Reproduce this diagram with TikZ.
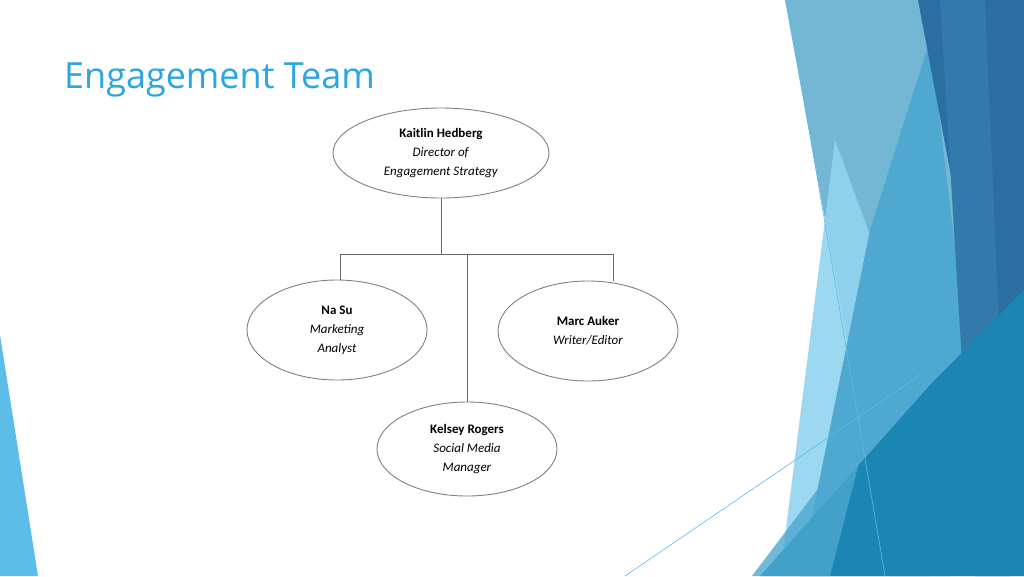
\documentclass[tikz,border=0pt]{standalone}
\usepackage{fontspec}
\setmainfont{Carlito}
\newfontfamily\titlefont{Open Sans}
\usetikzlibrary{shapes.geometric}
\definecolor{titleblue}{HTML}{2BA6DE}
\definecolor{bgpale}{HTML}{74B7D5}
\definecolor{bgmid}{HTML}{4EA8CF}
\definecolor{bgdark}{HTML}{2A6EA2}
\definecolor{bgcyan}{HTML}{93D4F0}
\definecolor{bgteal}{HTML}{1B85B4}
\definecolor{bgleft}{HTML}{5BBDE8}
\tikzset{
  person/.style={ellipse, draw=black!50, line width=0.9pt, fill=white, inner sep=0pt, align=center, font=\fontsize{13}{19}\selectfont},
  link/.style={draw=black!60, line width=0.9pt}
}
\begin{document}
\begin{tikzpicture}[x=1pt,y=-1pt]
    \useasboundingbox (0,0) rectangle (1024,576);
    \fill[white] (0,0) rectangle (1024,576);

    % background shapes
    \fill[bgpale] (785,0) -- (1024,0) -- (1024,576) -- (890,576) -- cycle;
    \fill[bgcyan, opacity=0.9] (835,140) -- (905,330) -- (930,576) -- (780,576) -- cycle;
    \fill[bgmid] (930,40) -- (965,330) -- (950,576) -- (800,576) -- (870,230) -- cycle;
    \fill[bgdark] (918,0) -- (1024,0) -- (1024,300) -- (980,330) -- cycle;
    \fill[bgdark!80!bgmid] (940,0) -- (985,0) -- (1010,576) -- (975,576) -- cycle;
    \fill[bgteal] (760,576) -- (930,385) -- (1024,290) -- (1024,576) -- cycle;
    \fill[bgmid, opacity=0.8] (752,576) -- (870,420) -- (830,576) -- cycle;
    \fill[bgleft] (0,335) -- (38,576) -- (0,576) -- cycle;
    \draw[bgleft, line width=0.6pt] (787,0) -- (885,576);
    \draw[bgleft, line width=0.6pt] (625,576) -- (920,375);

    % title
    \node[anchor=west, inner sep=0pt, text=titleblue, font=\titlefont\fontsize{36}{40}\selectfont] (title) at (64,80) {Engagement Team};

    % people
    \node[person, minimum width=216pt, minimum height=90pt] (kaitlin) at (441,153)
        {\textbf{Kaitlin Hedberg}\\\textit{Director of}\\\textit{Engagement Strategy}};
    \node[person, minimum width=180pt, minimum height=100pt] (nasu) at (337,330)
        {\textbf{Na Su}\\\textit{Marketing}\\\textit{Analyst}};
    \node[person, minimum width=180pt, minimum height=100pt] (marc) at (588,331)
        {\textbf{Marc Auker}\\\textit{Writer/Editor}};
    \node[person, minimum width=180pt, minimum height=94pt] (kelsey) at (467,449)
        {\textbf{Kelsey Rogers}\\\textit{Social Media}\\\textit{Manager}};

    % connectors
    \coordinate (barl) at (340,254);
    \coordinate (barr) at (613,254);
    \draw[link] (kaitlin.south) -- (kaitlin.south |- barl);
    \draw[link] (barl) -- (barr);
    \draw[link] (barl) -- (barl |- nasu.north);
    \draw[link] (barr) -- (barr |- marc.north);
    \draw[link] (kelsey.north |- barl) -- (kelsey.north);
\end{tikzpicture}
\end{document}
